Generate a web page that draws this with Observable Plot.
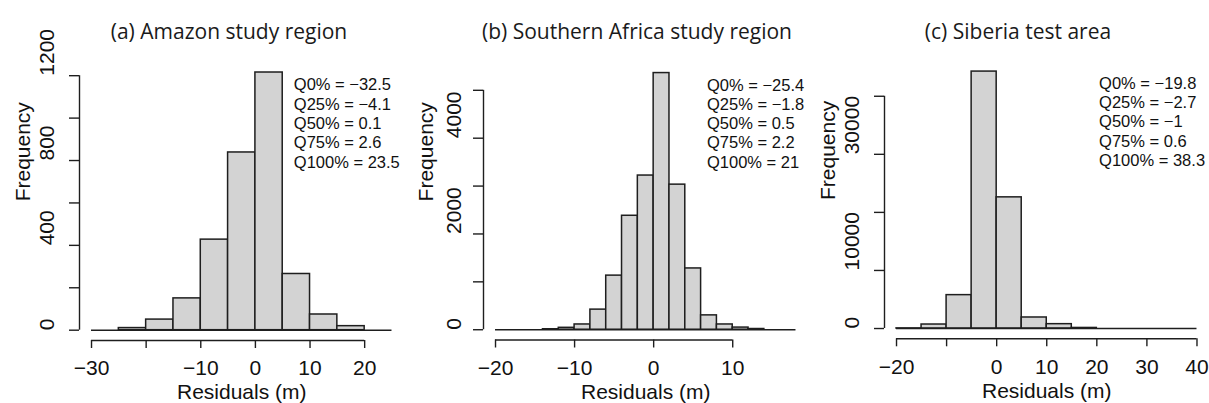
<!DOCTYPE html>
<html>
<head>
<meta charset="utf-8">
<script src="https://cdn.jsdelivr.net/npm/d3@7"></script>
<script src="https://cdn.jsdelivr.net/npm/@observablehq/plot@0.6"></script>
<style>
  html, body { margin: 0; padding: 0; background: #fff; }
  #figure { position: relative; width: 1209px; height: 403px; overflow: hidden; background: #fff; }
  .title {
    position: absolute; top: 18px; height: 26px; line-height: 26px;
    font-family: "Open Sans", sans-serif; font-size: 21px; color: #1a1a1a;
    white-space: nowrap; transform: translateX(-50%);
  }
  .panel { position: absolute; top: 45px; }
</style>
</head>
<body>
<div id="figure"></div>
<script>
// ---- Residual histograms: bin edges and counts per study region ----
const amazonBreaks = [-30, -25, -20, -15, -10, -5, 0, 5, 10, 15, 20, 25];
const amazonCounts = [0, 10, 50, 150, 427, 838, 1215, 265, 74, 19, 0];
const amazonQuantiles = ["Q0% = \u221232.5", "Q25% = \u22124.1", "Q50% = 0.1", "Q75% = 2.6", "Q100% = 23.5"];
const amazonXTicks = [-30, -20, -10, 0, 10, 20];
const amazonXLabels = [-30, -10, 0, 10, 20];
const amazonYTicks = [0, 200, 400, 600, 800, 1000, 1200];
const amazonYLabels = [0, 400, 800, 1200];

const africaBreaks = [-20, -18, -16, -14, -12, -10, -8, -6, -4, -2, 0, 2, 4, 6, 8, 10, 12, 14, 16, 18];
const africaCounts = [0, 0, 0, 10, 40, 110, 420, 1130, 2380, 3220, 5360, 3030, 1280, 300, 110, 45, 15, 0, 0];
const africaQuantiles = ["Q0% = \u221225.4", "Q25% = \u22121.8", "Q50% = 0.5", "Q75% = 2.2", "Q100% = 21"];
const africaXTicks = [-20, -10, 0, 10];
const africaXLabels = [-20, -10, 0, 10];
const africaYTicks = [0, 1000, 2000, 3000, 4000, 5000];
const africaYLabels = [0, 2000, 4000];

const siberiaBreaks = [-20, -15, -10, -5, 0, 5, 10, 15, 20, 25, 30, 35, 40];
const siberiaCounts = [20, 690, 5750, 44250, 22590, 1900, 750, 100, 0, 0, 0, 0];
const siberiaQuantiles = ["Q0% = \u221219.8", "Q25% = \u22122.7", "Q50% = \u22121", "Q75% = 0.6", "Q100% = 38.3"];
const siberiaXTicks = [-20, -10, 0, 10, 20, 30, 40];
const siberiaXLabels = [-20, 0, 10, 20, 30, 40];
const siberiaYTicks = [0, 10000, 20000, 30000, 40000];
const siberiaYLabels = [0, 10000, 30000];

const titles = ["(a) Amazon study region", "(b) Southern Africa study region", "(c) Siberia test area"];
const xTitle = "Residuals (m)";
const yTitle = "Frequency";

// ---- Layout of each panel on the page (pixels) ----
const panels = [
  {title: titles[0], breaks: amazonBreaks, counts: amazonCounts, quant: amazonQuantiles,
   xTicks: amazonXTicks, xLabels: amazonXLabels, yTicks: amazonYTicks, yLabels: amazonYLabels,
   plotLeft: 79, plotTop: 61.7, plotBottom: 340, titleX: 229, tickDx: -32, titleDx: -56.3, qDx: 214.3, qDy: 14.5},
  {title: titles[1], breaks: africaBreaks, counts: africaCounts, quant: africaQuantiles,
   xTicks: africaXTicks, xLabels: africaXLabels, yTicks: africaYTicks, yLabels: africaYLabels,
   plotLeft: 482.5, plotTop: 62.3, plotBottom: 339.5, titleX: 637, tickDx: -29.5, titleDx: -57.5, qDx: 223.5, qDy: 14},
  {title: titles[2], breaks: siberiaBreaks, counts: siberiaCounts, quant: siberiaQuantiles,
   xTicks: siberiaXTicks, xLabels: siberiaXLabels, yTicks: siberiaYTicks, yLabels: siberiaYLabels,
   plotLeft: 883.7, plotTop: 60.8, plotBottom: 338.3, titleX: 1018, tickDx: -32, titleDx: -56, qDx: 214.6, qDy: 13.8}
];

const svgTop = 45;
const svgHeight = 403 - svgTop;
const marginLeft = 78;
const plotWidth = 324.5;
const ink = "#1e1e1e";
const fmt = d => (d < 0 ? "\u2212" + Math.abs(d) : String(d));

const figure = document.getElementById("figure");

for (const p of panels) {
  const title = document.createElement("div");
  title.className = "title";
  title.style.left = p.titleX + "px";
  title.textContent = p.title;
  figure.appendChild(title);

  const bins = p.counts.map((c, i) => ({x1: p.breaks[i], x2: p.breaks[i + 1], count: c}));
  const b0 = p.breaks[0], bN = p.breaks[p.breaks.length - 1];
  const xPad = 0.04 * (bN - b0);
  const yMax = d3.max(p.counts);
  const yPad = 0.04 * yMax;

  const chart = Plot.plot({
    width: marginLeft + plotWidth,
    height: svgHeight,
    marginLeft,
    marginRight: 0,
    marginTop: p.plotTop - svgTop,
    marginBottom: svgTop + svgHeight - p.plotBottom,
    style: {fontFamily: "'Liberation Sans', Arial, sans-serif", background: "transparent", overflow: "visible", color: ink},
    x: {domain: [b0 - xPad, bN + xPad]},
    y: {domain: [-yPad, yMax + yPad]},
    marks: [
      // histogram bars
      Plot.rectY(bins, {x1: "x1", x2: "x2", y: "count", inset: 0, fill: "#d3d3d3", stroke: ink, strokeWidth: 1.5}),
      // zero-count bins show as a line along the baseline
      Plot.ruleY([0], {x1: b0, x2: bN, stroke: ink, strokeWidth: 1.5}),
      // axis lines spanning first to last tick
      Plot.ruleY([-yPad], {x1: p.xTicks[0], x2: p.xTicks[p.xTicks.length - 1], stroke: ink, strokeWidth: 1.4}),
      Plot.ruleX([b0 - xPad], {y1: p.yTicks[0], y2: p.yTicks[p.yTicks.length - 1], stroke: ink, strokeWidth: 1.4}),
      // tick marks
      Plot.axisX(p.xTicks, {tickSize: 8, tickFormat: () => "", label: null, stroke: ink, strokeWidth: 1.4}),
      Plot.axisY(p.yTicks, {tickSize: 10, tickFormat: () => "", label: null, stroke: ink, strokeWidth: 1.4}),
      // tick labels
      Plot.axisX(p.xLabels, {tickSize: 0, tickPadding: 20, tickFormat: fmt, label: null, fontSize: 21, fill: "#111"}),
      Plot.text(p.yLabels, {y: d => d, text: fmt, frameAnchor: "left", dx: p.tickDx, rotate: -90,
        fontSize: 21, fill: "#111"}),
      // axis titles
      Plot.text([xTitle], {frameAnchor: "bottom", dy: 52, lineAnchor: "middle", fontSize: 21, fill: "#111"}),
      Plot.text([yTitle], {frameAnchor: "left", dx: p.titleDx, rotate: -90, fontSize: 21, fill: "#111"}),
      // quantile summary
      Plot.text([p.quant.join("\n")], {frameAnchor: "top-left", dx: p.qDx, dy: p.qDy, textAnchor: "start",
        lineAnchor: "top", lineHeight: 1.17, fontSize: 16.5, fill: "#111"})
    ]
  });
  chart.classList.add("panel");
  chart.style.left = (p.plotLeft - marginLeft) + "px";
  figure.appendChild(chart);
}
</script>
</body>
</html>
